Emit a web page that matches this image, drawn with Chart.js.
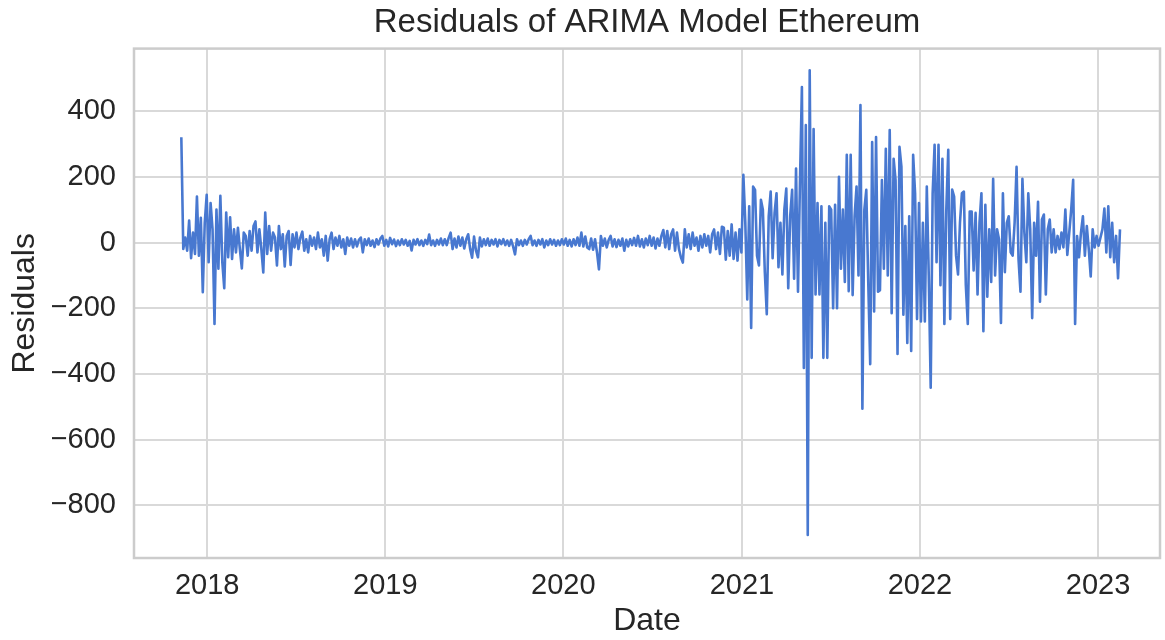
<!DOCTYPE html>
<html lang="en">
<head>
<meta charset="UTF-8">
<title>Residuals of ARIMA Model Ethereum</title>
<script src="https://cdn.jsdelivr.net/npm/chart.js"></script>
<style>
  html, body { margin: 0; padding: 0; background: #fff; }
</style>
</head>
<body>
<canvas id="residChart" width="1165" height="640"></canvas>
<script>
// one residual every 4 days, starting 2017-11-09
const startDate = '2017-11-09';
const stepDays = 4;

// Nov 2017 - May 2018
const resNov17 = [320, -20, 15, -25, 67, -48, 30, -35, 140, -40, 75, -151, 60, 145, -60, 120, 40, -248, 100, -80,
  142, -60, -139, 91, -45, 77, -50, 40, -30, 45, -20, -79, 30, 20, -40, 35, -25, 50, 64, -30, 40, -20, -91, 91, -35];
// May 2018 - Nov 2018
const resMay18 = [50, -25, 30, 15, -70, 50, -20, 25, -73, 20, 35, -68, 25, -15, 30, -20, 15, 33, -25, 10,
  -30, 20, -10, 15, -20, 30, -15, 10, -40, 20, -55, 10, 30, -20, 15, -10, 20, -15, 10, -35, 15, -10, 12, -15, 10];
// Nov 2018 - May 2019
const resNov18 = [-12, 8, 15, -30, 10, -8, 12, -10, 6, -14, 10, -6, 12, 20, -10, 8, -12, 14, -5, 9,
  -11, 6, -8, 10, -6, 8, -10, 5, -24, 8, -6, 10, -8, 6, -10, 8, -5, 24, -8, 6, -10, 8, -6, 12, -8];
// May 2019 - Oct 2019
const resMay19 = [10, -8, 14, 30, -20, 12, -15, 18, -10, 15, -18, 10, 25, -20, -46, 18, -25, -45, 15, -12,
  10, -8, 12, -10, 8, -6, 10, -12, 8, -5, 10, -8, 6, -10, 8, -12, -36, 10, -8, 6, -10, 8, -6, 10, 20];
// Oct 2019 - Apr 2020
const resOct19 = [-8, 6, -10, 8, -6, 10, -15, 6, -8, 10, -6, 8, -10, 6, -8, 10, -6, 12, -10, 8,
  -12, 10, -8, 15, -10, 30, -12, 18, -15, -20, 12, -22, 10, -30, -82, 20, -10, 12, -15, 8, 20, -12, 10, -14, 8];
// Apr 2020 - Oct 2020
const resApr20 = [-10, 12, -25, 8, -12, 10, -8, 14, -10, 20, -12, 10, -15, 12, -8, 20, -10, 15, -18, 12,
  -10, 20, 38, -15, 35, -20, 25, 40, -25, 30, -20, -45, -61, 40, -15, 25, -20, 30, -10, 15, -25, 20, -15, 25, -10];
// Oct 2020 - Apr 2021
const resOct20 = [20, -30, 25, 40, -20, 30, -35, 48, 45, -52, 35, -40, 55, -50, 30, -55, 40, -30, 206, 60,
  -173, 110, -260, 170, 160, -40, -70, 130, 100, -90, -218, 80, 155, -48, 90, 150, -75, 60, -97, 100, 164, -139, 80, 160, -110];
// Apr 2021 - Oct 2021
const resApr21 = [225, -150, 180, 473, -382, 357, -890, 524, -351, 345, -158, 120, -158, 110, -351, 60, -351, 110, 100, -200,
  115, -200, 200, -80, 100, -120, 267, -148, 267, -160, 80, 170, -100, 418, -506, 100, 160, -120, -370, 306, -210, 321, -150, -145, 190];
// Oct 2021 - Apr 2022
const resOct21 = [-80, 285, -100, 342, -215, 255, 190, -339, 291, 230, -220, 50, -306, 80, -330, 267, 150, -233, 120, -240,
  60, -240, 170, -100, -442, 150, 297, -60, 297, -130, 255, -248, 100, 282, -233, 161, 140, -40, -97, 60, 150, 155, -130, -248, 94];
// Apr 2022 - Oct 2022
const resApr22 = [94, -85, 90, -158, 60, 150, -270, 115, -165, 40, -120, 194, -100, 40, 10, -245, 150, -90, 60, 80,
  -30, -40, 60, 230, -50, -150, 194, 30, -60, 150, 40, -230, 60, -40, 124, -180, 70, 85, -158, 40, 70, -30, 40, -30, 20];
// Oct 2022 - Feb 2023
const resOct22 = [-20, 30, -15, 100, -38, 30, 100, 191, -248, 20, -45, 30, 80, -40, 50, -20, -103, 40, -15, 20,
  -10, 15, 40, 103, -30, 110, -45, 60, -60, 20, -109, 40];

const yTicks = [-800, -600, -400, -200, 0, 200, 400];
const xTickYears = [2018, 2019, 2020, 2021, 2022, 2023];

const DAY = 86400000;
const residuals = [].concat(resNov17, resMay18, resNov18, resMay19, resOct19, resApr20,
  resOct20, resApr21, resOct21, resApr22, resOct22);
const startDay = Date.parse(startDate) / DAY;
const points = residuals.map((v, i) => ({ x: startDay + i * stepDays, y: v }));
const yearDay = y => Date.UTC(y, 0, 1) / DAY;

const textColor = '#262626';
const gridColor = '#d9d9d9';
const fontFamily = 'Liberation Sans, Arial, sans-serif';

// light grey box round the plot area, like the seaborn spines
const framePlugin = {
  id: 'frame',
  beforeDatasetsDraw(chart) {
    const a = chart.chartArea, ctx = chart.ctx;
    ctx.save();
    ctx.strokeStyle = '#cccccc';
    ctx.lineWidth = 2.5;
    ctx.strokeRect(a.left, a.top, a.right - a.left, a.bottom - a.top);
    ctx.restore();
  }
};

new Chart(document.getElementById('residChart'), {
  type: 'line',
  data: {
    datasets: [{
      data: points,
      borderColor: '#4878d0',
      borderWidth: 2.6,
      borderJoinStyle: 'round',
      pointRadius: 0,
      tension: 0,
      fill: false
    }]
  },
  options: {
    responsive: false,
    animation: false,
    layout: { padding: { left: 0, right: 5, top: 0, bottom: 0 } },
    plugins: {
      legend: { display: false },
      tooltip: { enabled: false },
      title: {
        display: true,
        fullSize: false,
        text: 'Residuals of ARIMA Model Ethereum',
        color: textColor,
        font: { family: fontFamily, size: 33, weight: 'normal' },
        padding: { top: 3, bottom: 6 }
      }
    },
    scales: {
      x: {
        type: 'linear',
        min: Date.UTC(2017, 7, 4) / DAY,
        max: Date.UTC(2023, 4, 8) / DAY,
        afterBuildTicks: s => { s.ticks = xTickYears.map(y => ({ value: yearDay(y) })); },
        afterFit: s => { s.height = 82; },
        ticks: {
          color: textColor,
          padding: 11,
          maxRotation: 0,
          font: { family: fontFamily, size: 29 },
          callback: v => String(new Date(v * DAY).getUTCFullYear())
        },
        grid: { color: gridColor, lineWidth: 2, drawTicks: false },
        border: { display: false },
        title: {
          display: true,
          text: 'Date',
          color: textColor,
          font: { family: fontFamily, size: 32 },
          padding: { top: 0, bottom: 0 }
        }
      },
      y: {
        min: -960,
        max: 590,
        afterBuildTicks: s => { s.ticks = yTicks.map(v => ({ value: v })); },
        afterFit: s => { s.width = 134; },
        ticks: {
          color: textColor,
          padding: 18,
          font: { family: fontFamily, size: 29 },
          callback: v => (v < 0 ? '\u2212' + Math.abs(v) : String(v))
        },
        grid: { color: gridColor, lineWidth: 2, drawTicks: false },
        border: { display: false },
        title: {
          display: true,
          text: 'Residuals',
          color: textColor,
          font: { family: fontFamily, size: 32 },
          padding: { top: 6, bottom: 0 }
        }
      }
    }
  },
  plugins: [framePlugin]
});
</script>
</body>
</html>
